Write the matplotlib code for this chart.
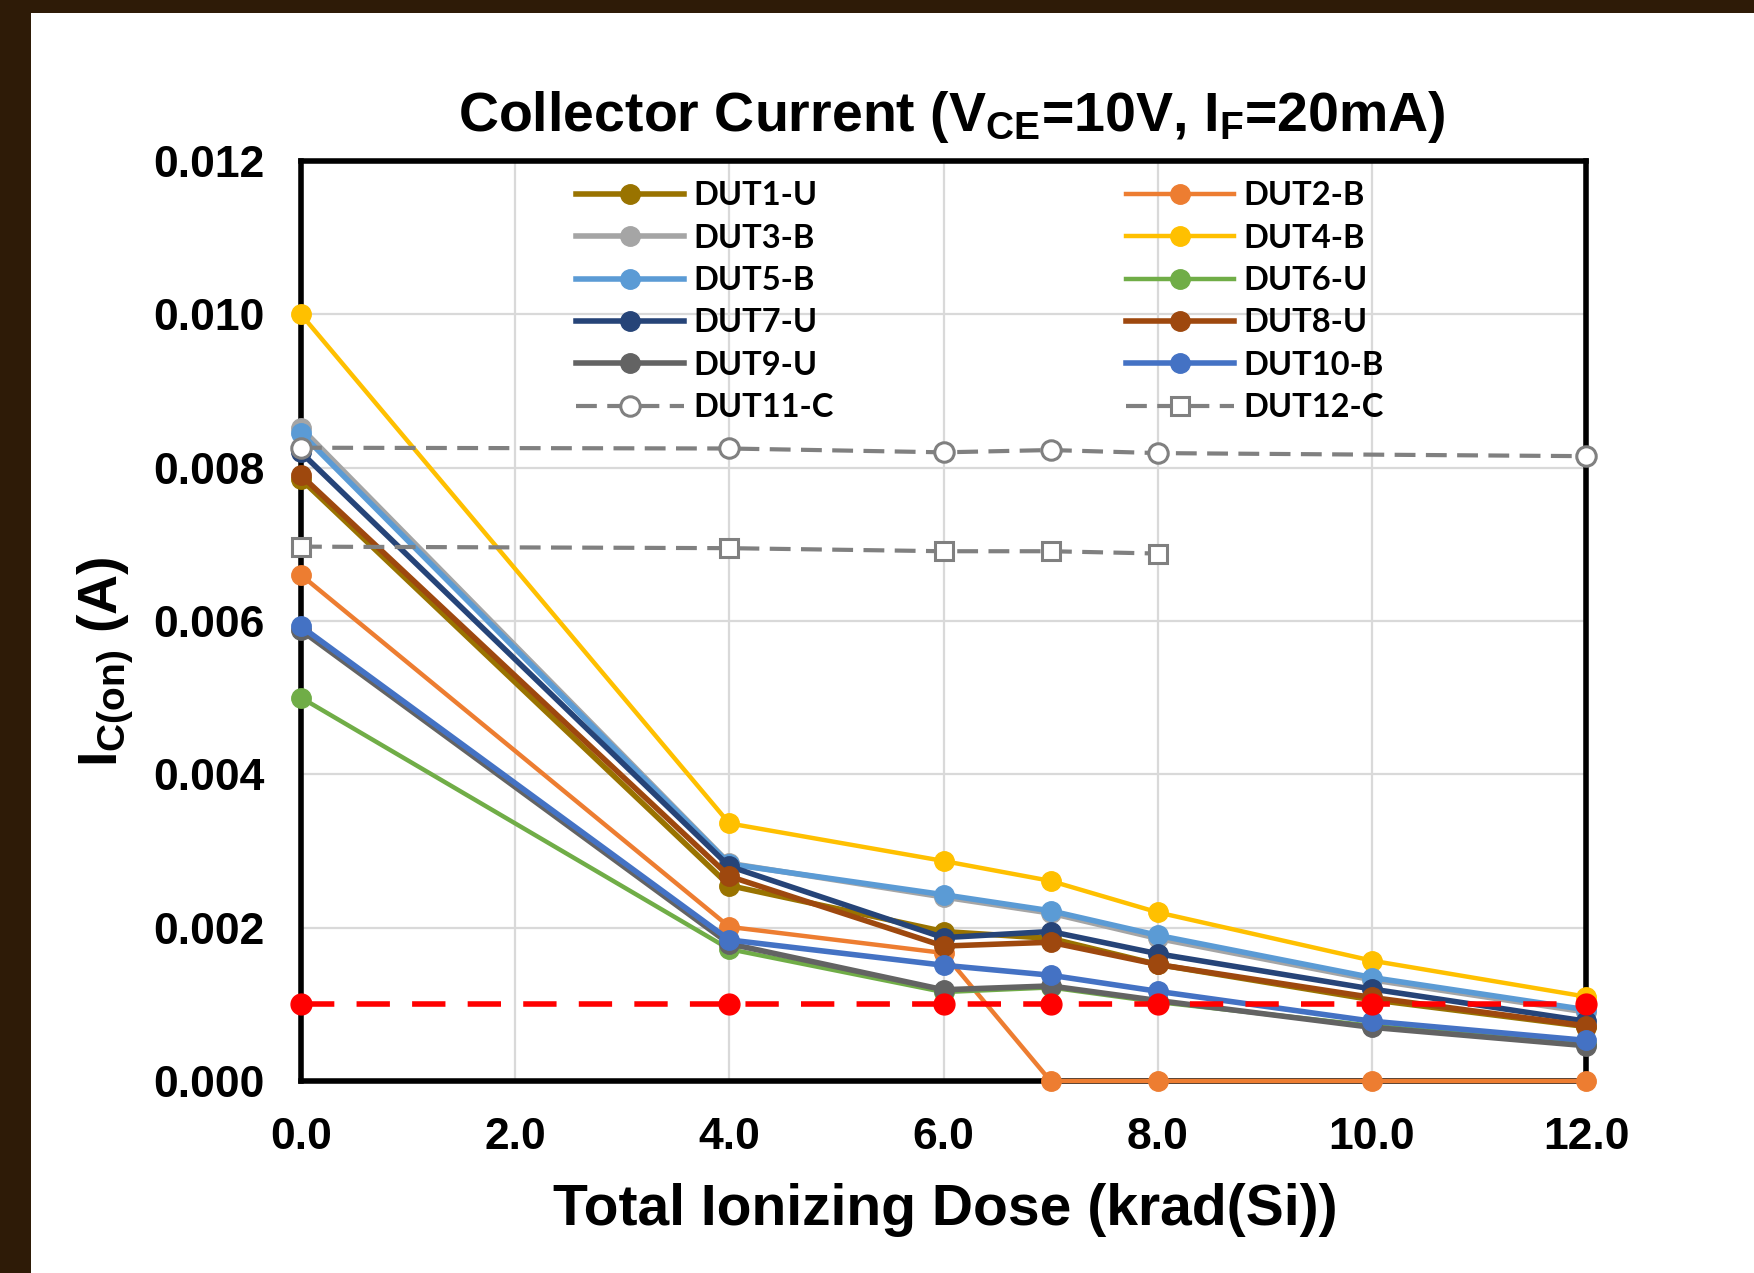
import matplotlib
matplotlib.use('Agg')
import matplotlib.pyplot as plt
from matplotlib.patches import Rectangle

plt.rcParams['font.family'] = ['Liberation Sans', 'DejaVu Sans']
plt.rcParams['mathtext.fontset'] = 'custom'
plt.rcParams['mathtext.rm'] = 'Liberation Sans:bold'
plt.rcParams['mathtext.it'] = 'Liberation Sans:bold'
plt.rcParams['mathtext.bf'] = 'Liberation Sans:bold'

# dose points (krad(Si))
dose = [0, 4, 6, 7, 8, 10, 12]
dose_ctrl11 = [0, 4, 6, 7, 8, 12]
dose_ctrl12 = [0, 4, 6, 7, 8]

# collector current (A)
dut1 = [0.00785, 0.00255, 0.00195, 0.00186, 0.00152, 0.00106, 0.00071]
dut2 = [0.00660, 0.00201, 0.00167, 0.0, 0.0, 0.0, 0.0]
dut3 = [0.00852, 0.00284, 0.00240, 0.00219, 0.00186, 0.00132, 0.00090]
dut4 = [0.01000, 0.00336, 0.00287, 0.00261, 0.00220, 0.00157, 0.00110]
dut5 = [0.00845, 0.00283, 0.00243, 0.00222, 0.00190, 0.00135, 0.00093]
dut6 = [0.00500, 0.00172, 0.00116, 0.00122, 0.00103, 0.00072, 0.00048]
dut7 = [0.00820, 0.00280, 0.00187, 0.00195, 0.00166, 0.00120, 0.00078]
dut8 = [0.00790, 0.00267, 0.00176, 0.00181, 0.00152, 0.00109, 0.00072]
dut9 = [0.00588, 0.00179, 0.00119, 0.00124, 0.00105, 0.00070, 0.00046]
dut10 = [0.00593, 0.00184, 0.00151, 0.00138, 0.00117, 0.00078, 0.00053]
dut11 = [0.00826, 0.00825, 0.00820, 0.00823, 0.00819, 0.00815]
dut12 = [0.00697, 0.00695, 0.00691, 0.00691, 0.00688]
limit = [0.001, 0.001, 0.001, 0.001, 0.001, 0.001, 0.001]

series = [
    ('DUT1-U', dut1, '#997300', 4.0),
    ('DUT2-B', dut2, '#ED7D31', 3.2),
    ('DUT3-B', dut3, '#A5A5A5', 4.0),
    ('DUT4-B', dut4, '#FFC000', 3.2),
    ('DUT5-B', dut5, '#5B9BD5', 4.0),
    ('DUT6-U', dut6, '#70AD47', 3.2),
    ('DUT7-U', dut7, '#264478', 4.0),
    ('DUT8-U', dut8, '#9E480E', 4.0),
    ('DUT9-U', dut9, '#636363', 4.0),
    ('DUT10-B', dut10, '#4472C4', 4.0),
]

fig = plt.figure(figsize=(17.54, 12.73), dpi=100)
fig.patch.set_facecolor('#2e1b07')
fig.add_artist(Rectangle((31 / 1754, 0), 1, 1 - 13 / 1273, transform=fig.transFigure,
                         facecolor='white', edgecolor='none', zorder=0))

ax = fig.add_axes([301 / 1754, 1 - 1081 / 1273, 1285 / 1754, 920 / 1273])

handles = {}
for name, vals, col, lw in series:
    h, = ax.plot(dose, vals, color=col, lw=lw, marker='o', ms=14, mec=col, mfc=col,
                 clip_on=False, zorder=3, label=name)
    handles[name] = h

h11, = ax.plot(dose_ctrl11, dut11, color='#808080', lw=3, ls='--', dashes=(5, 2.5),
               marker='o', ms=14, mfc='white', mec='#808080', mew=2.2,
               clip_on=False, zorder=3, label='DUT11-C')
h12, = ax.plot(dose_ctrl12, dut12, color='#808080', lw=3, ls='--', dashes=(5, 2.5),
               marker='s', ms=13, mfc='white', mec='#808080', mew=2.2,
               clip_on=False, zorder=3, label='DUT12-C')
handles['DUT11-C'] = h11
handles['DUT12-C'] = h12

ax.plot(dose, limit, color='#FF0000', lw=4, ls='--', dashes=(6, 4), marker='o', ms=15,
        clip_on=False, zorder=4)

ax.set_xlim(0, 12)
ax.set_ylim(0, 0.012)
ax.set_xticks([0, 2, 4, 6, 8, 10, 12])
ax.set_xticklabels(['0.0', '2.0', '4.0', '6.0', '8.0', '10.0', '12.0'])
ax.set_yticks([0, 0.002, 0.004, 0.006, 0.008, 0.010, 0.012])
ax.set_yticklabels(['0.000', '0.002', '0.004', '0.006', '0.008', '0.010', '0.012'])
ax.tick_params(length=0, labelsize=32, pad=26)
for lab in ax.get_xticklabels() + ax.get_yticklabels():
    lab.set_fontweight('bold')
ax.grid(True, color='#d9d9d9', lw=1.6)
ax.set_axisbelow(True)
for s in ax.spines.values():
    s.set_linewidth(4)
    s.set_color('black')
    s.set_zorder(2.5)

left_names = ['DUT1-U', 'DUT3-B', 'DUT5-B', 'DUT7-U', 'DUT9-U', 'DUT11-C']
right_names = ['DUT2-B', 'DUT4-B', 'DUT6-U', 'DUT8-U', 'DUT10-B', 'DUT12-C']
leg_font = {'family': 'Lato', 'weight': 'bold', 'size': 23.5}
leg1 = ax.legend([handles[n] for n in left_names], left_names, loc='upper left',
                 bbox_to_anchor=(0.214, 0.978), frameon=False, prop=leg_font,
                 handlelength=3.3, handletextpad=0.3, labelspacing=0.41,
                 borderpad=0, borderaxespad=0, numpoints=1)
ax.add_artist(leg1)
ax.legend([handles[n] for n in right_names], right_names, loc='upper left',
          bbox_to_anchor=(0.642, 0.978), frameon=False, prop=leg_font,
          handlelength=3.3, handletextpad=0.3, labelspacing=0.41,
          borderpad=0, borderaxespad=0, numpoints=1)

fig.text(952 / 1754, 1 - 131 / 1273, r'Collector Current (V$_{\mathrm{CE}}$=10V, I$_{\mathrm{F}}$=20mA)',
         ha='center', va='baseline', fontsize=40, fontweight='bold')
fig.text(945 / 1754, 1 - 1225 / 1273, 'Total Ionizing Dose (krad(Si))',
         ha='center', va='baseline', fontsize=41, fontweight='bold')
fig.text(106 / 1754, 1 - 662 / 1273, r'I$_{\mathrm{C(on)}}$ (A)', rotation=90,
         ha='center', va='center', fontsize=40, fontweight='bold')

fig.savefig('out.png', dpi=100)
